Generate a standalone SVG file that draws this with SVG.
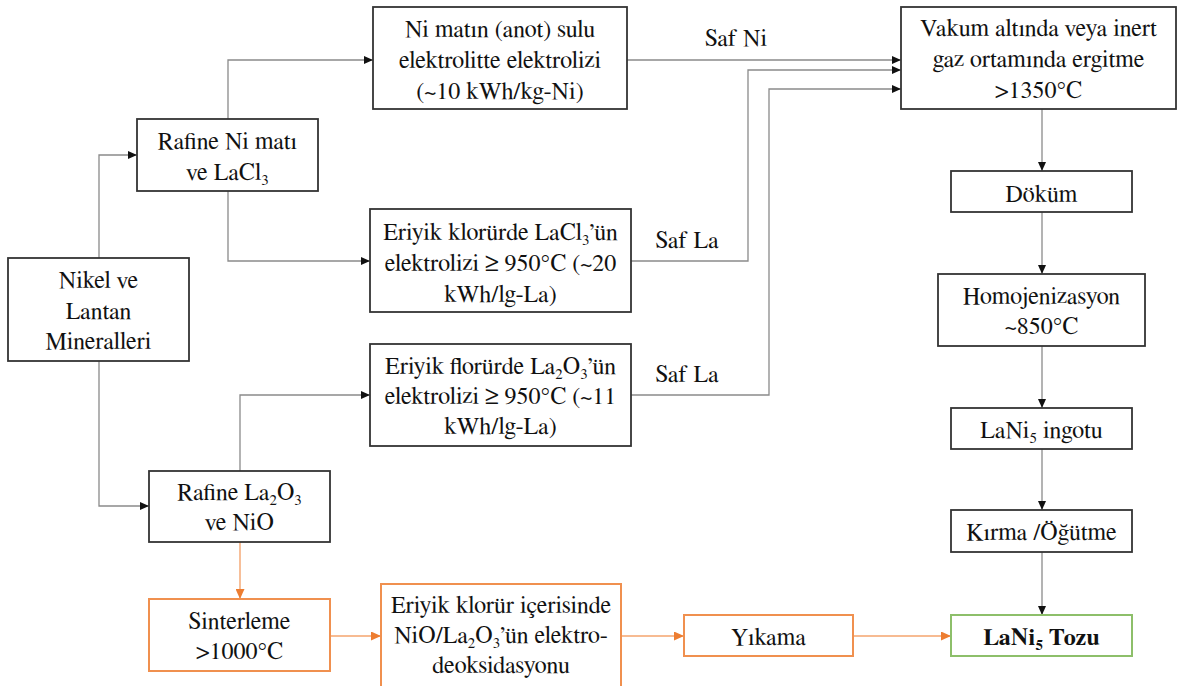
<svg xmlns="http://www.w3.org/2000/svg" width="1179" height="686" viewBox="0 0 1179 686">
<defs>
<style>
.box{fill:#fff;stroke:#333;stroke-width:1.8}
.obox{fill:#fff;stroke:#F0904F;stroke-width:2}
.gbox{fill:#fff;stroke:#8DBF6A;stroke-width:2}
.c{fill:none;stroke:#8a8a8a;stroke-width:1.3}
.oc{fill:none;stroke:#F4A46E;stroke-width:1.4}
</style>
<marker id="ah" markerUnits="userSpaceOnUse" markerWidth="9" markerHeight="8" refX="9" refY="4" orient="auto"><path d="M0,0 L9,4 L0,8 z" fill="#111"/></marker>
<marker id="oah" markerUnits="userSpaceOnUse" markerWidth="10" markerHeight="9" refX="10" refY="4.5" orient="auto"><path d="M0,0 L10,4.5 L0,9 z" fill="#ED7D31"/></marker>
</defs>

<g id="connectors">
<path class="c" d="M99,258 V155 H137" marker-end="url(#ah)"/>
<path class="c" d="M99,361 V506 H149" marker-end="url(#ah)"/>
<path class="c" d="M228,119 V60 H373" marker-end="url(#ah)"/>
<path class="c" d="M228,191 V261 H370" marker-end="url(#ah)"/>
<path class="c" d="M240,471 V395 H370" marker-end="url(#ah)"/>
<path class="c" d="M627,60 H901" marker-end="url(#ah)"/>
<path class="c" d="M631,261 H748 V70 H901" marker-end="url(#ah)"/>
<path class="c" d="M631,395 H769 V89 H901" marker-end="url(#ah)"/>
<path class="c" d="M1042,109 V171" marker-end="url(#ah)"/>
<path class="c" d="M1042,212 V274" marker-end="url(#ah)"/>
<path class="c" d="M1042,346 V408" marker-end="url(#ah)"/>
<path class="c" d="M1042,449 V510" marker-end="url(#ah)"/>
<path class="c" d="M1042,552 V615" marker-end="url(#ah)"/>
<path class="oc" d="M240,542 V599" marker-end="url(#oah)"/>
<path class="oc" d="M330,636 H381" marker-end="url(#oah)"/>
<path class="oc" d="M621,636 H684" marker-end="url(#oah)"/>
<path class="oc" d="M853,636 H951" marker-end="url(#oah)"/>
<g font-family="FreeSerif, Liberation Serif, serif" font-size="24" fill="#111" text-anchor="middle">
<text x="736" y="46">Saf Ni</text>
<text x="687" y="248">Saf La</text>
<text x="687" y="382">Saf La</text>
</g>
</g>

<g id="n-minerals" font-family="FreeSerif, Liberation Serif, serif" font-size="24" fill="#111" text-anchor="middle">
<rect class="box" x="8" y="258" width="181" height="103"/>
<text x="98.5" y="288">Nikel ve</text>
<text x="98.5" y="319">Lantan</text>
<text x="98.5" y="349">Mineralleri</text>
</g>

<g id="n-rafine-ni" font-family="FreeSerif, Liberation Serif, serif" font-size="24" fill="#111" text-anchor="middle">
<rect class="box" x="137" y="119" width="181" height="72"/>
<text x="227.5" y="149">Rafine Ni matı</text>
<text x="227.5" y="180">ve LaCl<tspan font-size="15" dy="5">3</tspan></text>
</g>

<g id="n-rafine-la" font-family="FreeSerif, Liberation Serif, serif" font-size="24" fill="#111" text-anchor="middle">
<rect class="box" x="149" y="471" width="181" height="71"/>
<text x="239.5" y="500">Rafine La<tspan font-size="15" dy="5">2</tspan><tspan dy="-5">O</tspan><tspan font-size="15" dy="5">3</tspan></text>
<text x="239.5" y="530">ve NiO</text>
</g>

<g id="n-ni-elektroliz" font-family="FreeSerif, Liberation Serif, serif" font-size="24" fill="#111" text-anchor="middle">
<rect class="box" x="373" y="7" width="254" height="102"/>
<text x="500" y="37">Ni matın (anot) sulu</text>
<text x="500" y="68">elektrolitte elektrolizi</text>
<text x="500" y="99">(~10 kWh/kg-Ni)</text>
</g>

<g id="n-klorur" font-family="FreeSerif, Liberation Serif, serif" font-size="24" fill="#111" text-anchor="middle">
<rect class="box" x="370" y="209" width="261" height="103"/>
<text x="500.5" y="240">Eriyik klorürde LaCl<tspan font-size="15" dy="5">3</tspan><tspan dy="-5">’ün</tspan></text>
<text x="500.5" y="271">elektrolizi ≥ 950°C (~20</text>
<text x="500.5" y="302">kWh/lg-La)</text>
</g>

<g id="n-florur" font-family="FreeSerif, Liberation Serif, serif" font-size="24" fill="#111" text-anchor="middle">
<rect class="box" x="370" y="344" width="261" height="102"/>
<text x="500.5" y="374">Eriyik florürde La<tspan font-size="15" dy="5">2</tspan><tspan dy="-5">O</tspan><tspan font-size="15" dy="5">3</tspan><tspan dy="-5">’ün</tspan></text>
<text x="500.5" y="404">elektrolizi ≥ 950°C (~11</text>
<text x="500.5" y="434">kWh/lg-La)</text>
</g>

<g id="n-vakum" font-family="FreeSerif, Liberation Serif, serif" font-size="24" fill="#111" text-anchor="middle">
<rect class="box" x="901" y="7" width="275" height="102"/>
<text x="1038.5" y="36">Vakum altında veya inert</text>
<text x="1038.5" y="67">gaz ortamında ergitme</text>
<text x="1038.5" y="98">&gt;1350°C</text>
</g>

<g id="n-dokum" font-family="FreeSerif, Liberation Serif, serif" font-size="24" fill="#111" text-anchor="middle">
<rect class="box" x="951" y="171" width="181" height="41"/>
<text x="1041.5" y="202">Döküm</text>
</g>

<g id="n-homo" font-family="FreeSerif, Liberation Serif, serif" font-size="24" fill="#111" text-anchor="middle">
<rect class="box" x="938" y="274" width="207" height="72"/>
<text x="1041.5" y="304">Homojenizasyon</text>
<text x="1041.5" y="334">~850°C</text>
</g>

<g id="n-ingot" font-family="FreeSerif, Liberation Serif, serif" font-size="24" fill="#111" text-anchor="middle">
<rect class="box" x="951" y="408" width="181" height="41"/>
<text x="1041.5" y="438">LaNi<tspan font-size="15" dy="5">5</tspan><tspan dy="-5"> ingotu</tspan></text>
</g>

<g id="n-kirma" font-family="FreeSerif, Liberation Serif, serif" font-size="24" fill="#111" text-anchor="middle">
<rect class="box" x="951" y="510" width="181" height="42"/>
<text x="1041.5" y="540">Kırma /Öğütme</text>
</g>

<g id="n-tozu" font-family="FreeSerif, Liberation Serif, serif" font-size="24" fill="#111" text-anchor="middle">
<rect class="gbox" x="951" y="615" width="181" height="41"/>
<text font-weight="bold" x="1041.5" y="645">LaNi<tspan font-size="15" dy="5">5</tspan><tspan dy="-5"> Tozu</tspan></text>
</g>

<g id="n-sinter" font-family="FreeSerif, Liberation Serif, serif" font-size="24" fill="#111" text-anchor="middle">
<rect class="obox" x="149" y="599" width="181" height="72"/>
<text x="239.5" y="629">Sinterleme</text>
<text x="239.5" y="659">&gt;1000°C</text>
</g>

<g id="n-deoks" font-family="FreeSerif, Liberation Serif, serif" font-size="24" fill="#111" text-anchor="middle">
<rect class="obox" x="381" y="584" width="240" height="110"/>
<text x="501" y="613">Eriyik klorür içerisinde</text>
<text x="501" y="643">NiO/La<tspan font-size="15" dy="5">2</tspan><tspan dy="-5">O</tspan><tspan font-size="15" dy="5">3</tspan><tspan dy="-5">’ün elektro-</tspan></text>
<text x="501" y="673">deoksidasyonu</text>
</g>

<g id="n-yikama" font-family="FreeSerif, Liberation Serif, serif" font-size="24" fill="#111" text-anchor="middle">
<rect class="obox" x="684" y="615" width="169" height="41"/>
<text x="768.5" y="645">Yıkama</text>
</g>
</svg>
